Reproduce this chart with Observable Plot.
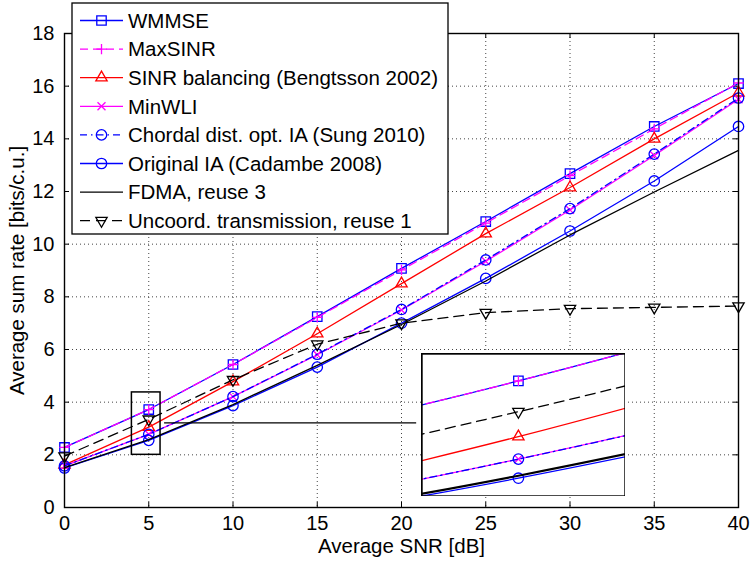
<!DOCTYPE html>
<html><head><meta charset="utf-8">
<script src="https://cdn.jsdelivr.net/npm/d3@7"></script>
<script src="https://cdn.jsdelivr.net/npm/@observablehq/plot@0.6"></script>
<style>
body{margin:0;background:#fff;}
#wrap{position:relative;width:752px;height:561px;font-family:"Liberation Sans",Arial,Helvetica,sans-serif;}
#wrap > *{position:absolute;}
</style></head><body><div id="wrap"></div>
<script>
// ---- data ----
const snr = [0, 5, 10, 15, 20, 25, 30, 35, 40];
const wmmse   = [2.28, 3.72, 5.43, 7.25, 9.08, 10.86, 12.68, 14.47, 16.1];
const maxsinr = [2.28, 3.72, 5.43, 7.22, 9.02, 10.80, 12.60, 14.38, 16.12];
const sinrBal = [1.62, 3.05, 4.78, 6.60, 8.50, 10.40, 12.15, 14.00, 15.75];
const minwli  = [1.58, 2.78, 4.21, 5.80, 7.50, 9.35, 11.30, 13.37, 15.50];
const chordal = [1.58, 2.78, 4.21, 5.82, 7.52, 9.40, 11.35, 13.42, 15.55];
const origIA  = [1.50, 2.55, 3.87, 5.33, 7.00, 8.70, 10.50, 12.40, 14.47];
const fdma    = [1.51, 2.58, 3.91, 5.40, 6.95, 8.60, 10.35, 11.98, 13.56];
const uncoord = [1.95, 3.35, 4.85, 6.20, 7.00, 7.40, 7.55, 7.60, 7.65];
const seriesNames = ["WMMSE", "MaxSINR", "SINR balancing (Bengtsson 2002)", "MinWLI",
  "Chordal dist. opt. IA (Sung 2010)", "Original IA (Cadambe 2008)", "FDMA, reuse 3",
  "Uncoord. transmission, reuse 1"];
const seriesValues = [wmmse, maxsinr, sinrBal, minwli, chordal, origIA, fdma, uncoord];
const xTicks = [0, 5, 10, 15, 20, 25, 30, 35, 40];
const yTicks = [0, 2, 4, 6, 8, 10, 12, 14, 16, 18];
const xLabel = "Average SNR [dB]";
const yLabel = "Average sum rate [bits/c.u.]";
const zoomX = 5;

// ---- styles ----
const styles = [
  {color: "#0000ff", dash: null, symbol: "square2", r: 6},
  {color: "#ff00ff", dash: "8,5", symbol: "plus", r: 3.4},
  {color: "#ff0000", dash: null, symbol: "triangle2", r: 5.4},
  {color: "#ff00ff", dash: null, symbol: "times", r: 3.7},
  {color: "#0000ff", dash: "7,4,1.5,4", symbol: "circle", r: 5.2},
  {color: "#0000ff", dash: null, symbol: "circle", r: 5.2},
  {color: "#000000", dash: null, symbol: null, r: 0},
  {color: "#000000", dash: "10,6", symbol: "triangle2", r: 5.4, rotate: 180}
];
const rows = seriesNames.flatMap((name, i) => snr.map((x, j) => ({series: i, x, y: seriesValues[i][j]})));
const bySeries = i => rows.filter(d => d.series === i);

// annotation layout (zoom rectangle and connector)
const zoomRect = {x1: 4.0, x2: 5.7, y1: 2.0, y2: 4.37};
const connector = {x1: 5.94, x2: 20.9, y: 3.21};
const insetX = [4.05, 6.05], insetY = [2.33, 4.05];

const W = 752, H = 561, mL = 64, mR = 14, mT = 33, mB = 54;
const innerW = W - mL - mR, innerH = H - mT - mB, tk = 5;
const font = "Liberation Sans, Arial, Helvetica, sans-serif";

function seriesMarks(opts = {}) {
  const marks = [];
  styles.forEach((s, i) => {
    marks.push(Plot.line(bySeries(i), {x: "x", y: "y", stroke: s.color, strokeWidth: (opts.fdmaWide && i === 6) ? 2.2 : 1.3,
      strokeDasharray: s.dash || undefined, curve: opts.curve || "linear", clip: opts.clip || false}));
    if (s.symbol) {
      const data = opts.only != null ? bySeries(i).filter(d => d.x === opts.only) : bySeries(i);
      marks.push(Plot.dot(data, {x: "x", y: "y", symbol: s.symbol, r: s.r, stroke: s.color, fill: "none",
        strokeWidth: 1.3, rotate: s.rotate || 0}));
    }
  });
  return marks;
}

const main = Plot.plot({
  width: W, height: H, marginLeft: mL, marginRight: mR, marginTop: mT, marginBottom: mB,
  style: {fontFamily: font, fontSize: "20px", background: "white", color: "black", overflow: "visible"},
  x: {domain: [0, 40], label: null},
  y: {domain: [0, 18], label: null},
  marks: [
    Plot.gridX(xTicks, {stroke: "#444", strokeOpacity: 1, strokeDasharray: "1,3"}),
    Plot.gridY(yTicks, {stroke: "#444", strokeOpacity: 1, strokeDasharray: "1,3"}),
    Plot.tickX(xTicks, {x: d => d, insetTop: innerH - tk, stroke: "black"}),
    Plot.tickX(xTicks, {x: d => d, insetBottom: innerH - tk, stroke: "black"}),
    Plot.tickY(yTicks, {y: d => d, insetRight: innerW - tk, stroke: "black"}),
    Plot.tickY(yTicks, {y: d => d, insetLeft: innerW - tk, stroke: "black"}),
    Plot.axisX(xTicks, {tickSize: 0, tickPadding: 8, fontSize: 20, label: null}),
    Plot.axisY(yTicks, {tickSize: 0, tickPadding: 10, fontSize: 20, label: null}),
    ...seriesMarks(),
    Plot.rect([zoomRect], {x1: "x1", x2: "x2", y1: "y1", y2: "y2", stroke: "black", strokeWidth: 1.5, fill: "none"}),
    Plot.ruleY([connector], {x1: "x1", x2: "x2", y: "y", stroke: "black", strokeWidth: 1.3}),
    Plot.frame({stroke: "black", strokeWidth: 1.4}),
    Plot.text([xLabel], {frameAnchor: "bottom", dy: 39, lineAnchor: "middle", fontSize: 20.5, text: d => d}),
    Plot.text([yLabel], {frameAnchor: "left", dx: -47, rotate: -90, lineAnchor: "middle", textAnchor: "middle", fontSize: 20.5, text: d => d})
  ]
});
const wrap = document.getElementById("wrap");
main.style.left = "0px"; main.style.top = "0px";
wrap.appendChild(main);

// inset zoom plot
const inset = Plot.plot({
  width: 204, height: 143, margin: 0,
  style: {background: "white", overflow: "hidden"},
  x: {domain: insetX, axis: null},
  y: {domain: insetY, axis: null},
  marks: [
    ...seriesMarks({curve: "catmull-rom", clip: true, only: zoomX, fdmaWide: true}),
    Plot.frame({stroke: "black", strokeWidth: 2.4})
  ]
});
inset.style.left = "421px"; inset.style.top = "353px";
wrap.appendChild(inset);

// legend
const legW = 377, legH = 232, rowH = 28.6;
const leg = d3.create("svg").attr("width", legW + 2).attr("height", legH + 2)
  .style("left", "71px").style("top", "2px").style("font-family", font);
leg.append("rect").attr("x", 1).attr("y", 1).attr("width", legW - 1).attr("height", legH - 1)
  .attr("fill", "white").attr("stroke", "black").attr("stroke-width", 1.3);
const symMap = {square2: d3.symbolSquare2, plus: d3.symbolPlus, triangle2: d3.symbolTriangle2, times: d3.symbolTimes, circle: d3.symbolCircle};
seriesNames.forEach((name, i) => {
  const s = styles[i], cy = 18.5 + i * rowH;
  const g = leg.append("g");
  g.append("line").attr("x1", 9).attr("x2", 52).attr("y1", cy).attr("y2", cy)
    .attr("stroke", s.color).attr("stroke-width", 1.3).attr("stroke-dasharray", s.dash);
  if (s.symbol) {
    g.append("path").attr("d", d3.symbol(symMap[s.symbol], Math.PI * s.r * s.r)())
      .attr("transform", `translate(30.5,${cy}) rotate(${s.rotate || 0})`)
      .attr("fill", "none").attr("stroke", s.color).attr("stroke-width", 1.3);
  }
  g.append("text").attr("x", 57).attr("y", cy).attr("dy", "0.36em").attr("font-size", 20.5).text(name);
});
wrap.appendChild(leg.node());
</script></body></html>
